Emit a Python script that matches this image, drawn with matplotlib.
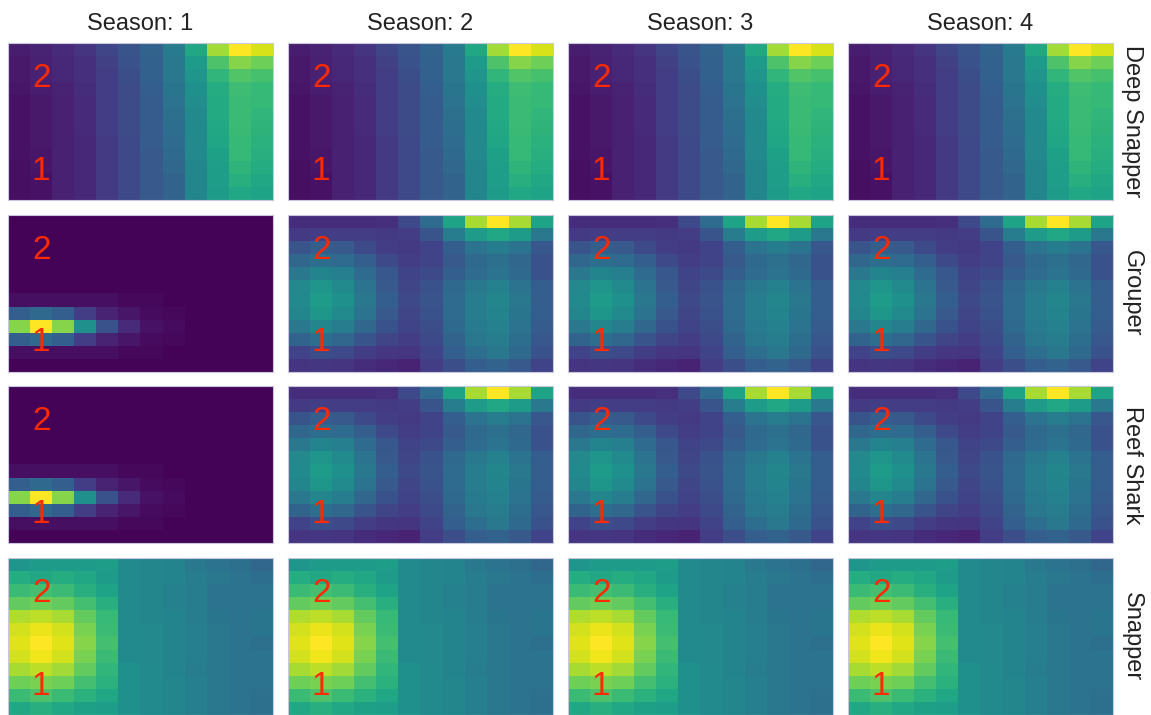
import numpy as np
import matplotlib
matplotlib.use("Agg")
import matplotlib.pyplot as plt

plt.rcParams['font.family'] = ['Liberation Sans', 'DejaVu Sans']

seasons = ["Season: 1", "Season: 2", "Season: 3", "Season: 4"]
species = ["Deep Snapper", "Grouper", "Reef Shark", "Snapper"]

# 12x12 grids, top row first, values scaled 0..1 per panel
deep_snapper = [
    [0.08, 0.10, 0.12, 0.15, 0.21, 0.26, 0.32, 0.41, 0.60, 0.86, 1.00, 0.94],
    [0.07, 0.09, 0.11, 0.14, 0.19, 0.25, 0.31, 0.40, 0.55, 0.72, 0.82, 0.78],
    [0.07, 0.09, 0.11, 0.14, 0.18, 0.24, 0.31, 0.40, 0.52, 0.66, 0.73, 0.71],
    [0.06, 0.08, 0.10, 0.13, 0.18, 0.23, 0.30, 0.39, 0.50, 0.62, 0.69, 0.67],
    [0.05, 0.07, 0.09, 0.12, 0.18, 0.23, 0.29, 0.38, 0.49, 0.61, 0.68, 0.67],
    [0.05, 0.07, 0.09, 0.12, 0.18, 0.23, 0.29, 0.37, 0.48, 0.61, 0.68, 0.66],
    [0.05, 0.07, 0.09, 0.12, 0.18, 0.23, 0.29, 0.36, 0.48, 0.60, 0.68, 0.65],
    [0.05, 0.07, 0.09, 0.11, 0.17, 0.22, 0.29, 0.35, 0.47, 0.59, 0.67, 0.64],
    [0.05, 0.06, 0.09, 0.11, 0.17, 0.22, 0.28, 0.34, 0.47, 0.57, 0.67, 0.63],
    [0.04, 0.06, 0.09, 0.11, 0.17, 0.22, 0.28, 0.33, 0.46, 0.56, 0.65, 0.62],
    [0.04, 0.05, 0.09, 0.11, 0.17, 0.22, 0.28, 0.32, 0.46, 0.56, 0.63, 0.60],
    [0.04, 0.05, 0.09, 0.11, 0.17, 0.22, 0.28, 0.32, 0.46, 0.55, 0.60, 0.58],
]

# season 1 for grouper / reef shark: a narrow band near the bottom-left
early_band = [
    [0.01, 0.01, 0.01, 0.01, 0.01, 0.01, 0.01, 0.01, 0.01, 0.01, 0.01, 0.01],
    [0.01, 0.01, 0.01, 0.01, 0.01, 0.01, 0.01, 0.01, 0.01, 0.01, 0.01, 0.01],
    [0.01, 0.01, 0.01, 0.01, 0.01, 0.01, 0.01, 0.01, 0.01, 0.01, 0.01, 0.01],
    [0.01, 0.01, 0.01, 0.01, 0.01, 0.01, 0.01, 0.01, 0.01, 0.01, 0.01, 0.01],
    [0.01, 0.01, 0.01, 0.01, 0.01, 0.01, 0.01, 0.01, 0.01, 0.01, 0.01, 0.01],
    [0.01, 0.01, 0.01, 0.01, 0.01, 0.01, 0.01, 0.01, 0.01, 0.01, 0.01, 0.01],
    [0.04, 0.04, 0.04, 0.04, 0.04, 0.02, 0.02, 0.01, 0.01, 0.01, 0.01, 0.01],
    [0.30, 0.34, 0.30, 0.18, 0.10, 0.06, 0.03, 0.02, 0.01, 0.01, 0.01, 0.01],
    [0.82, 1.00, 0.82, 0.50, 0.25, 0.12, 0.05, 0.03, 0.01, 0.01, 0.01, 0.01],
    [0.30, 0.34, 0.30, 0.18, 0.10, 0.06, 0.03, 0.02, 0.01, 0.01, 0.01, 0.01],
    [0.04, 0.04, 0.04, 0.04, 0.04, 0.02, 0.02, 0.01, 0.01, 0.01, 0.01, 0.01],
    [0.01, 0.01, 0.01, 0.01, 0.01, 0.01, 0.01, 0.01, 0.01, 0.01, 0.01, 0.01],
]

# seasons 2-4 for grouper / reef shark
late_spread = [
    [0.13, 0.13, 0.13, 0.13, 0.14, 0.22, 0.35, 0.58, 0.87, 1.00, 0.87, 0.58],
    [0.17, 0.18, 0.18, 0.18, 0.17, 0.18, 0.26, 0.42, 0.55, 0.60, 0.55, 0.40],
    [0.26, 0.30, 0.28, 0.22, 0.18, 0.17, 0.20, 0.30, 0.38, 0.42, 0.38, 0.27],
    [0.33, 0.36, 0.35, 0.30, 0.22, 0.18, 0.20, 0.28, 0.34, 0.37, 0.33, 0.25],
    [0.40, 0.45, 0.43, 0.35, 0.27, 0.20, 0.22, 0.30, 0.35, 0.38, 0.34, 0.25],
    [0.47, 0.52, 0.48, 0.38, 0.28, 0.21, 0.25, 0.34, 0.40, 0.44, 0.38, 0.30],
    [0.48, 0.55, 0.50, 0.40, 0.30, 0.22, 0.26, 0.35, 0.42, 0.46, 0.40, 0.30],
    [0.46, 0.53, 0.48, 0.38, 0.28, 0.21, 0.25, 0.35, 0.42, 0.45, 0.39, 0.30],
    [0.40, 0.46, 0.42, 0.33, 0.25, 0.20, 0.24, 0.34, 0.41, 0.44, 0.38, 0.29],
    [0.32, 0.36, 0.33, 0.26, 0.21, 0.18, 0.22, 0.32, 0.40, 0.42, 0.36, 0.27],
    [0.20, 0.24, 0.22, 0.18, 0.16, 0.15, 0.20, 0.30, 0.36, 0.40, 0.34, 0.25],
    [0.15, 0.16, 0.15, 0.13, 0.11, 0.10, 0.18, 0.24, 0.30, 0.32, 0.28, 0.20],
]

snapper = [
    [0.52, 0.55, 0.55, 0.55, 0.56, 0.48, 0.46, 0.45, 0.40, 0.38, 0.37, 0.33],
    [0.62, 0.60, 0.62, 0.60, 0.55, 0.48, 0.46, 0.45, 0.42, 0.40, 0.38, 0.36],
    [0.68, 0.70, 0.68, 0.63, 0.58, 0.48, 0.46, 0.44, 0.42, 0.38, 0.38, 0.38],
    [0.76, 0.78, 0.76, 0.70, 0.63, 0.48, 0.46, 0.44, 0.42, 0.38, 0.38, 0.38],
    [0.88, 0.90, 0.87, 0.76, 0.67, 0.48, 0.46, 0.45, 0.42, 0.39, 0.38, 0.39],
    [0.93, 0.97, 0.93, 0.80, 0.68, 0.48, 0.47, 0.45, 0.43, 0.40, 0.38, 0.39],
    [0.95, 1.00, 0.95, 0.82, 0.70, 0.48, 0.47, 0.45, 0.43, 0.40, 0.38, 0.37],
    [0.93, 0.98, 0.93, 0.80, 0.68, 0.48, 0.47, 0.45, 0.43, 0.40, 0.38, 0.38],
    [0.87, 0.90, 0.86, 0.76, 0.66, 0.50, 0.48, 0.45, 0.42, 0.40, 0.38, 0.38],
    [0.78, 0.80, 0.78, 0.70, 0.64, 0.50, 0.48, 0.46, 0.43, 0.40, 0.38, 0.38],
    [0.68, 0.72, 0.68, 0.64, 0.60, 0.50, 0.48, 0.46, 0.43, 0.40, 0.38, 0.37],
    [0.60, 0.63, 0.60, 0.57, 0.56, 0.50, 0.48, 0.46, 0.43, 0.40, 0.38, 0.37],
]

panels = {
    "Deep Snapper": [deep_snapper] * 4,
    "Grouper": [early_band, late_spread, late_spread, late_spread],
    "Reef Shark": [early_band, late_spread, late_spread, late_spread],
    "Snapper": [snapper] * 4,
}

# red markers: label, column, row (row counted from top)
markers = [("2", 1, 2.2), ("1", 1, 9.3)]

W, H = 1151, 715
fig = plt.figure(figsize=(W / 100, H / 100), dpi=100)

for r, sp in enumerate(species):
    for c, season in enumerate(seasons):
        left = 8 + c * 280
        top = 43 + r * 171.7
        ax = fig.add_axes([left / W, (H - top - 157) / H, 265 / W, 157 / H])
        ax.imshow(np.array(panels[sp][c]), cmap="viridis", vmin=0, vmax=1,
                  aspect="auto", interpolation="nearest")
        for lab, x, y in markers:
            ax.text(x, y, lab, color="#ff2a00", fontsize=24,
                    ha="center", va="center")
        ax.set_xticks([])
        ax.set_yticks([])
        for s in ax.spines.values():
            s.set_color("#c8c8dc")
            s.set_linewidth(0.8)
        if r == 0:
            ax.set_title(season, fontsize=17, color="#222222", pad=9)
        if c == 3:
            ax.text(1.07, 0.5, sp, transform=ax.transAxes, rotation=270,
                    fontsize=17, color="#222222", ha="center", va="center")

fig.savefig("out.png", dpi=100)
